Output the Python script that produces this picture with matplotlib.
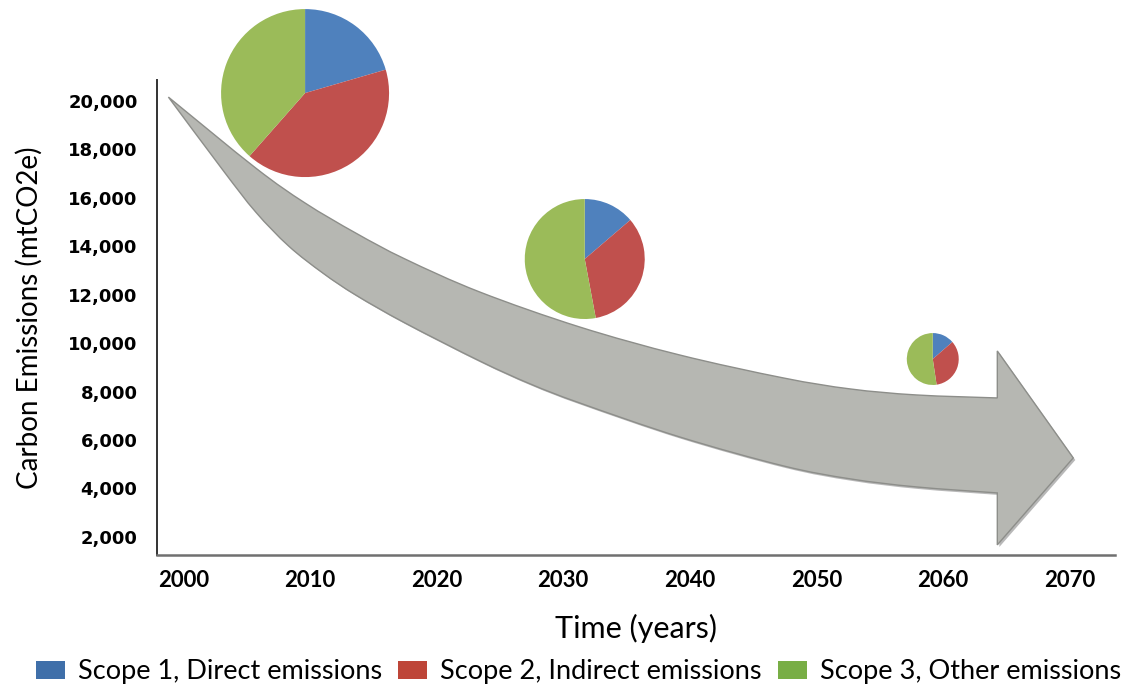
import numpy as np
import matplotlib.pyplot as plt
from matplotlib.patches import PathPatch, Patch
from matplotlib.path import Path
import matplotlib.patheffects as pe

# Axis ticks
years = [2000, 2010, 2020, 2030, 2040, 2050, 2060, 2070]
emission_ticks = [2000, 4000, 6000, 8000, 10000, 12000, 14000, 16000, 18000, 20000]

# Emissions split by scope at three points in time (mtCO2e)
pie_years = [2009.6, 2031.7, 2059.2]
pie_levels = [20330, 13475, 9345]
scope1 = [4100, 1400, 260]
scope2 = [8200, 3400, 650]
scope3 = [7700, 5400, 1000]
scope_names = ['Scope 1, Direct emissions', 'Scope 2, Indirect emissions',
               'Scope 3, Other emissions']

# Outline of the downward trend arrow (year, mtCO2e)
upper_year = [1998.8, 2005.7, 2009.6, 2013.6, 2017.5, 2023.4, 2031.3,
              2039.2, 2047.4, 2052.7, 2057.9, 2064.3]
upper_val = [20165, 17234, 15789, 14550, 13476, 12114, 10668,
             9512, 8563, 8108, 7861, 7737]
lower_year = [1998.8, 2003.1, 2005.7, 2008.3, 2011.0, 2013.6, 2017.5,
              2023.4, 2027.4, 2031.3, 2039.2, 2047.4, 2052.7, 2057.9, 2064.3]
lower_val = [20165, 17151, 15417, 14013, 12898, 11990, 10834,
             9265, 8315, 7531, 6127, 4930, 4393, 4062, 3814]
head_year = [2064.3, 2070.3, 2064.3]
head_val = [9678, 5260, 1668]

pie_colors = ['#4f81bd', '#c0504d', '#9bbb59']
legend_colors = ['#3f6fa9', '#be4538', '#78ae45']


def smooth_segments(pts):
    """Cubic Bezier control points running smoothly through pts."""
    pts = np.asarray(pts, dtype=float)
    ext = np.vstack([pts[0], pts, pts[-1]])
    verts = []
    for i in range(1, len(ext) - 2):
        p0, p1, p2, p3 = ext[i - 1], ext[i], ext[i + 1], ext[i + 2]
        verts += [p1 + (p2 - p0) / 6, p2 - (p3 - p1) / 6, p2]
    return verts


W, H = 1128, 685
fig = plt.figure(figsize=(W / 100, H / 100), dpi=100)
ax = fig.add_axes([157 / W, 1 - 555 / H, (1115 - 157) / W, (555 - 80) / H])
ax.set_xlim(1997.9, 2073.6)
ax.set_ylim(1250, 20870)

label_font = ['Lato', 'DejaVu Sans']

ax.set_xticks(years)
ax.set_xticklabels([str(y) for y in years], fontsize=16, fontweight='bold',
                   family=label_font)
ax.set_yticks(emission_ticks)
ax.set_yticklabels([f'{v:,}' for v in emission_ticks], fontsize=13,
                   fontweight='bold')
ax.tick_params(axis='both', length=0, colors='black')
ax.tick_params(axis='y', pad=14)
ax.tick_params(axis='x', pad=11)
for s in ['top', 'right']:
    ax.spines[s].set_visible(False)
ax.spines['left'].set_color('#333333')
ax.spines['left'].set_linewidth(1.4)
ax.spines['bottom'].set_color('#707070')
ax.spines['bottom'].set_linewidth(1.8)

ax.set_ylabel('Carbon Emissions (mtCO2e)', fontsize=20, family=label_font,
              labelpad=18)
ax.set_xlabel('Time (years)', fontsize=22, family=label_font, labelpad=16)

# trend arrow: curved upper edge, the head, then the lower edge back
upper = list(zip(upper_year, upper_val))
lower = list(zip(lower_year, lower_val))[::-1]
verts = [upper[0]] + smooth_segments(upper)
codes = [Path.MOVETO] + [Path.CURVE4] * (len(verts) - 1)
for p in list(zip(head_year, head_val)) + [lower[0]]:
    verts.append(p)
    codes.append(Path.LINETO)
low = smooth_segments(lower)
verts += low + [upper[0]]
codes += [Path.CURVE4] * len(low) + [Path.CLOSEPOLY]
arrow = PathPatch(Path(verts, codes), facecolor='#b6b7b2', edgecolor='#8d8e8a',
                  linewidth=1.0, zorder=2)
arrow.set_path_effects([pe.SimplePatchShadow(offset=(1.5, -1.5),
                                             shadow_rgbFace='#8a8a8a', alpha=0.6),
                        pe.Normal()])
ax.add_patch(arrow)

# pies sized by total emissions, drawn in their own small axes
totals = np.array(scope1) + np.array(scope2) + np.array(scope3)
for i in range(len(pie_years)):
    cx, cy = ax.transData.transform((pie_years[i], pie_levels[i]))
    r = 84 * np.sqrt(totals[i] / totals[0])
    pax = fig.add_axes([(cx - r) / W, (cy - r) / H, 2 * r / W, 2 * r / H])
    pax.pie([scope1[i], scope2[i], scope3[i]], colors=pie_colors,
            startangle=90, counterclock=False, radius=1,
            wedgeprops=dict(linewidth=0))
    pax.set_xlim(-1, 1)
    pax.set_ylim(-1, 1)
    pax.axis('off')

handles = [Patch(facecolor=c, edgecolor='none') for c in legend_colors]
fig.legend(handles, scope_names, loc='center left',
           bbox_to_anchor=(36 / W, 1 - 672 / H), ncol=3, frameon=False,
           prop={'family': label_font, 'size': 19.5}, handlelength=1.07,
           handleheight=0.66, handletextpad=0.48, columnspacing=0.6,
           borderpad=0, borderaxespad=0)

fig.savefig('out.png', dpi=100)
